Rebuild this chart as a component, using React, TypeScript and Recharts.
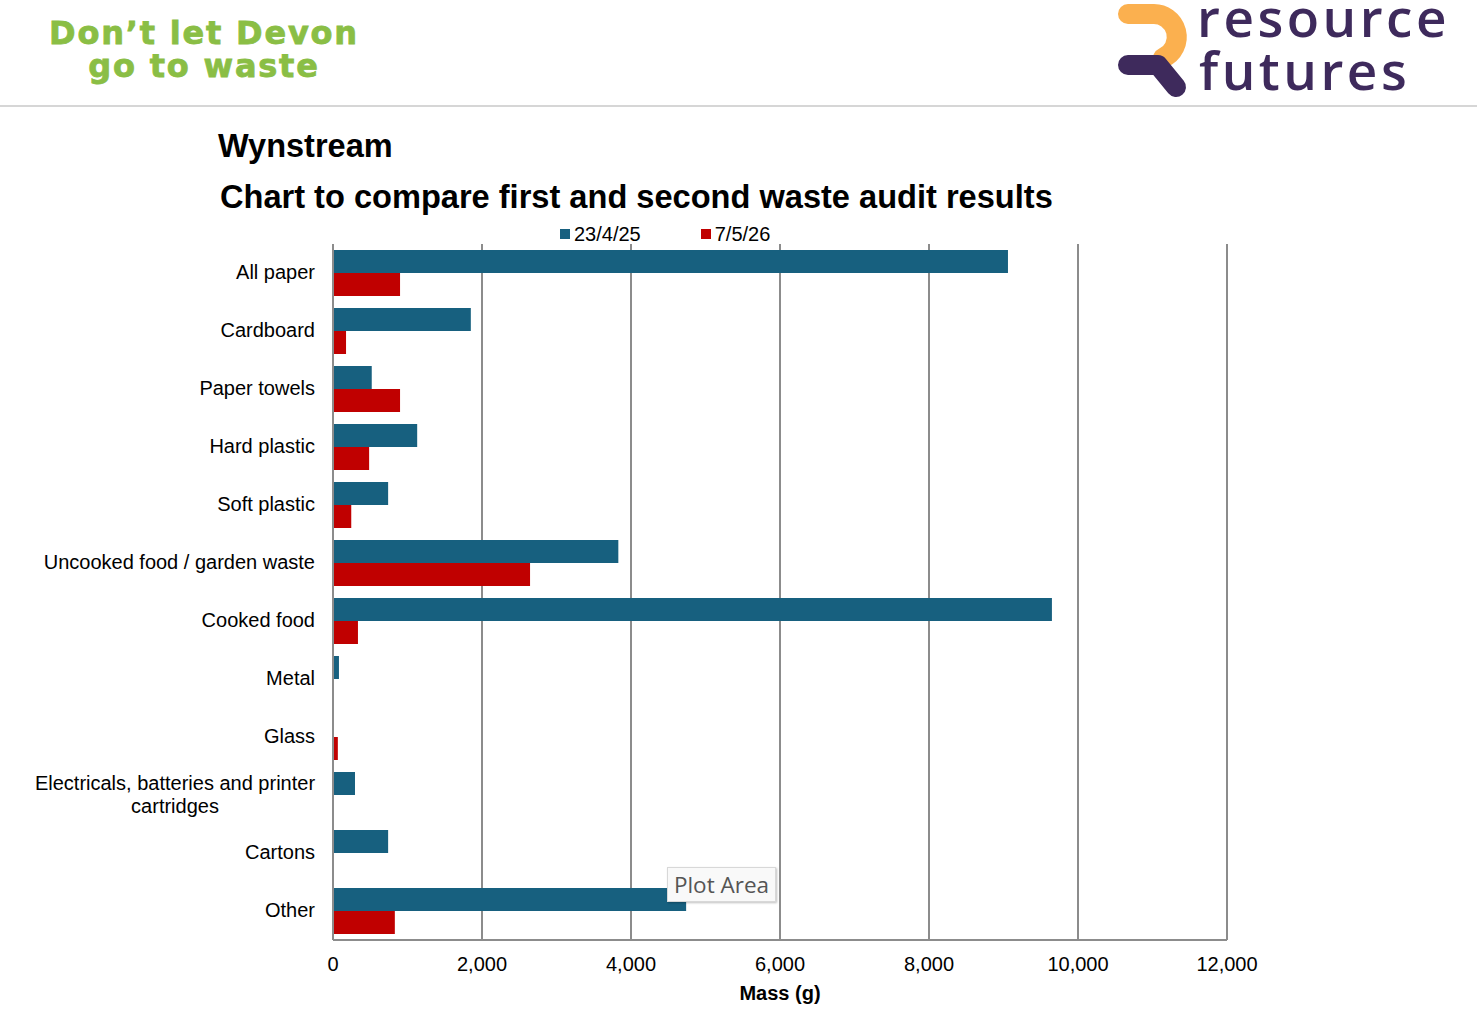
import React from "react";
import { BarChart, Bar, XAxis, YAxis, CartesianGrid, Legend, Label } from "recharts";

const categories = [
  "All paper",
  "Cardboard",
  "Paper towels",
  "Hard plastic",
  "Soft plastic",
  "Uncooked food / garden waste",
  "Cooked food",
  "Metal",
  "Glass",
  "Electricals, batteries and printer cartridges",
  "Cartons",
  "Other",
];
const audit1 = [9060, 1850, 520, 1130, 740, 3830, 9650, 80, 0, 295, 740, 4740];
const audit2 = [900, 175, 900, 485, 245, 2645, 335, 0, 65, 0, 0, 830];
const seriesNames = ["23/4/25", "7/5/26"];
const xTicks = [0, 2000, 4000, 6000, 8000, 10000, 12000];

const BLUE = "#17607f";
const RED = "#c00000";
const GRID = "#8c8c8c";
const FONT = "'Liberation Sans', Arial, sans-serif";

const data = categories.map((name, i) => ({ name, a: audit1[i], b: audit2[i] }));

function wrap(text: string, max: number): string[] {
  const words = text.split(" ");
  const lines: string[] = [];
  let cur = "";
  for (const w of words) {
    const next = cur ? cur + " " + w : w;
    if (next.length > max && cur) {
      lines.push(cur);
      cur = w;
    } else cur = next;
  }
  if (cur) lines.push(cur);
  return lines;
}

const CatTick = (props: any) => {
  const { x, y, payload } = props;
  const lines = wrap(String(payload.value), 34);
  if (lines.length === 1) {
    return (
      <text x={x} y={y - 1} dy="0.35em" textAnchor="end" fontSize={20} fontFamily={FONT} fill="#000">
        {lines[0]}
      </text>
    );
  }
  const lh = 23;
  const startY = y - 1 - ((lines.length - 1) * lh) / 2;
  return (
    <text x={x - 140} y={startY} textAnchor="middle" fontSize={20} fontFamily={FONT} fill="#000">
      {lines.map((l, i) => (
        <tspan key={i} x={x - 140} dy={i === 0 ? "0.35em" : lh}>
          {l}
        </tspan>
      ))}
    </text>
  );
};

const LegendContent = () => (
  <div style={{ display: "flex", alignItems: "center", fontFamily: FONT, fontSize: 20, lineHeight: "24px" }}>
    {seriesNames.map((n, i) => (
      <div key={n} style={{ display: "flex", alignItems: "center", marginRight: i === 0 ? 60 : 0 }}>
        <span style={{ display: "inline-block", width: 10, height: 10, background: i === 0 ? BLUE : RED, marginRight: 4 }} />
        <span>{n}</span>
      </div>
    ))}
  </div>
);

const fmt = (v: number) => v.toLocaleString("en-US");

export default function App() {
  return (
    <div style={{ position: "absolute", left: 0, top: 0, width: 1477, height: 1020, background: "#fff", overflow: "hidden" }}>
      {/* Header */}
      <svg width={1477} height={110} style={{ position: "absolute", left: 0, top: 0 }}>
        <g
          fontFamily="'DejaVu Sans', sans-serif"
          fontWeight="bold"
          fill="#8abe45"
          stroke="#8abe45"
          strokeWidth={0.8}
          fontSize={32}
          letterSpacing={1.8}
          textAnchor="middle"
        >
          <text x={204} y={44}>Don’t let Devon</text>
          <text x={204} y={77}>go to waste</text>
        </g>
        <path d="M1128 14 H1152 A23 23 0 0 1 1163 58" fill="none" stroke="#fbb04f" strokeWidth={20} strokeLinecap="round" />
        <path d="M1128 65 H1158 L1176 87" fill="none" stroke="#3e2a5c" strokeWidth={20} strokeLinecap="round" strokeLinejoin="round" />
        <g fontFamily="'Open Sans', sans-serif" fontWeight={600} fill="#3e2a5c" fontSize={53} letterSpacing={3.5}>
          <text x={1197} y={37}>resource</text>
          <text x={1199} y={90}>futures</text>
        </g>
        <line x1={0} y1={106} x2={1477} y2={106} stroke="#c8c8c8" strokeWidth={1.5} />
      </svg>

      {/* Titles */}
      <div style={{ position: "absolute", left: 218, top: 126, fontFamily: FONT, fontWeight: "bold", fontSize: 32.5, lineHeight: "40px", color: "#000" }}>
        Wynstream
      </div>
      <div style={{ position: "absolute", left: 220, top: 177, fontFamily: FONT, fontWeight: "bold", fontSize: 32.6, lineHeight: "40px", color: "#000", whiteSpace: "nowrap" }}>
        Chart to compare first and second waste audit results
      </div>

      <div style={{ position: "absolute", left: 0, top: 0 }}>
        <BarChart
          width={1477}
          height={1020}
          data={data}
          layout="vertical"
          margin={{ top: 244, right: 250, bottom: 10, left: 10 }}
          barSize={23}
          barGap={0}
        >
          <CartesianGrid horizontal={false} vertical stroke={GRID} strokeWidth={2} />
          <XAxis
            type="number"
            domain={[0, 12000]}
            ticks={xTicks}
            tickFormatter={fmt}
            axisLine={{ stroke: GRID, strokeWidth: 2 }}
            tickLine={false}
            tickMargin={11}
            height={70}
            tick={{ fontSize: 20, fontFamily: FONT, fill: "#000" }}
            interval={0}
          >
            <Label value="Mass (g)" position="insideBottom" offset={10} style={{ fontSize: 20, fontWeight: "bold", fontFamily: FONT, fill: "#000" }} />
          </XAxis>
          <YAxis
            type="category"
            dataKey="name"
            width={323}
            axisLine={{ stroke: GRID, strokeWidth: 2 }}
            tickLine={false}
            tickMargin={12}
            tick={<CatTick />}
            interval={0}
          />
          <Legend
            verticalAlign="middle"
            align="center"
            layout="horizontal"
            content={<LegendContent />}
            wrapperStyle={{ top: 222, left: 560, width: "auto" }}
          />
          <Bar dataKey="a" name={seriesNames[0]} fill={BLUE} isAnimationActive={false} />
          <Bar dataKey="b" name={seriesNames[1]} fill={RED} isAnimationActive={false} />
        </BarChart>
      </div>

      {/* Plot Area hover label */}
      <div
        style={{
          position: "absolute",
          left: 667,
          top: 867,
          width: 109,
          height: 35,
          boxSizing: "border-box",
          background: "#f9f9f9",
          border: "1px solid #d8d8d8",
          boxShadow: "1px 1px 2px rgba(0,0,0,0.25)",
          fontFamily: "'Open Sans', 'Noto Sans', sans-serif",
          fontSize: 22.5,
          color: "#555",
          lineHeight: "33px",
          textAlign: "center",
          whiteSpace: "nowrap",
        }}
      >
        Plot Area
      </div>
    </div>
  );
}
